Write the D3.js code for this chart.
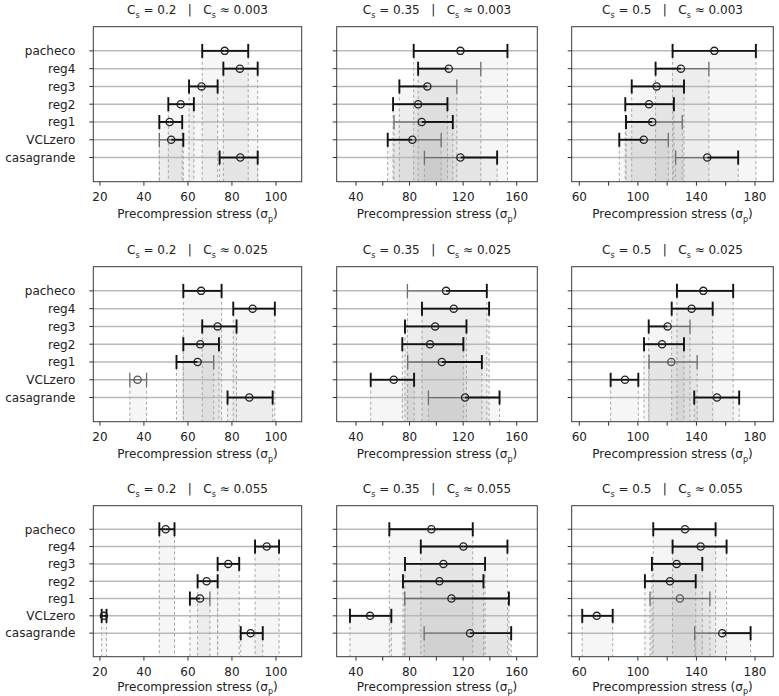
<!DOCTYPE html>
<html>
<head>
<meta charset="utf-8">
<script src="https://cdn.jsdelivr.net/npm/d3@7"></script>
<style>
	body { margin: 0; background: #fff; }
	text { font-family: "DejaVu Sans", sans-serif; white-space: pre; }
</style>
</head>
<body>
<div class="chart"></div>
<script>
// categories, top to bottom
const categories = ["pacheco", "reg4", "reg3", "reg2", "reg1", "VCLzero", "casagrande"]
const csValues = ["0.2", "0.35", "0.5"]
const csApprox = ["0.003", "0.025", "0.055"]

// [lower, estimate, upper] per category
const r1c1 = [[66.5, 76.7, 87.4], [76.1, 83.6, 91.7], [60.5, 66.2, 73.5], [51.1, 56.7, 62.7], [47.0, 51.7, 57.4], [47.0, 52.4, 57.9], [74.4, 83.8, 91.7]]
const r1c2 = [[83.1, 118.0, 153.1], [86.4, 109.3, 133.2], [72.4, 93.3, 115.3], [67.7, 86.4, 108.3], [68.4, 89.1, 112.3], [63.7, 82.1, 103.6], [91.1, 118.0, 145.4]]
const r1c3 = [[123.7, 152.2, 180.6], [112.1, 129.4, 148.5], [95.8, 112.8, 131.5], [91.4, 107.6, 124.6], [91.9, 109.8, 130.3], [87.3, 104.0, 120.8], [125.8, 147.4, 168.5]]
const r2c1 = [[57.9, 66.0, 75.3], [80.6, 89.4, 99.5], [66.5, 73.5, 82.1], [57.9, 65.6, 74.1], [54.8, 64.4, 71.7], [33.6, 37.1, 41.2], [78.0, 87.9, 98.5]]
const r2c2 = [[78.4, 107.3, 137.7], [89.3, 113.0, 139.4], [76.6, 99.1, 122.5], [74.6, 95.3, 120.2], [78.6, 104.1, 134.0], [51.0, 68.2, 83.4], [94.1, 121.5, 147.2]]
const r2c3 = [[126.7, 144.7, 165.1], [123.1, 136.7, 151.1], [107.4, 120.3, 135.6], [104.2, 116.5, 131.5], [107.6, 122.8, 140.5], [81.4, 91.2, 100.3], [138.5, 154.0, 169.2]]
const r3c1 = [[47.0, 49.9, 53.9], [90.5, 95.8, 101.4], [73.5, 78.3, 83.3], [64.4, 68.5, 73.5], [60.9, 65.5, 70.0], [20.8, 21.8, 23.0], [84.0, 88.5, 94.0]]
const r3c2 = [[64.9, 96.3, 127.2], [88.4, 120.2, 153.1], [76.6, 105.3, 136.4], [75.1, 102.3, 135.2], [76.4, 111.3, 154.2], [35.5, 50.5, 66.4], [90.9, 125.2, 155.9]]
const r3c3 = [[110.5, 132.2, 153.1], [123.7, 142.9, 160.6], [109.6, 126.5, 144.0], [104.8, 121.9, 139.5], [108.3, 128.7, 149.2], [62.0, 71.9, 82.8], [138.8, 157.6, 177.0]]

// half styles: left/right of the estimate, d = dark, l = light
const r1c1Style = ["dd", "dd", "dd", "dd", "dd", "ld", "dd"]
const r1c2Style = ["dd", "dl", "dl", "dd", "ld", "dl", "ld"]
const r1c3Style = ["dd", "dl", "dd", "dd", "dl", "dl", "ld"]
const r2c1Style = ["dd", "dd", "dd", "dd", "dl", "ll", "dd"]
const r2c2Style = ["ld", "dd", "dd", "dd", "ld", "dd", "ld"]
const r2c3Style = ["dd", "dd", "dl", "dd", "ll", "dd", "dd"]
const r3c1Style = ["dd", "dd", "dd", "dd", "dl", "dd", "dd"]
const r3c2Style = ["dd", "dd", "dd", "dd", "ld", "dd", "ld"]
const r3c3Style = ["dd", "dd", "dd", "dd", "ll", "dd", "ld"]

// x axis per column
const xDomains = [[17, 111.7], [25.6, 175.4], [54.8, 192.5]]
const xTicks = [[20, 40, 60, 80, 100], [40, 60, 80, 100, 120, 140, 160], [60, 80, 100, 120, 140, 160, 180]]
const xTickLabels = [[20, 40, 60, 80, 100], [40, 80, 120, 160], [60, 100, 140, 180]]

const panels = [
	[r1c1, r1c2, r1c3],
	[r2c1, r2c2, r2c3],
	[r3c1, r3c2, r3c3]
]
const panelStyles = [
	[r1c1Style, r1c2Style, r1c3Style],
	[r2c1Style, r2c2Style, r2c3Style],
	[r3c1Style, r3c2Style, r3c3Style]
]

// layout of the frames
const width = 779
const height = 696
const colX = [[93.3, 301.7], [336.7, 537.3], [571.7, 773.3]]
const rowY = [[26.7, 181.7], [266.7, 421.7], [505.7, 656.7]]

const svg = d3.select(".chart").append("svg")
	.attr("width", width)
	.attr("height", height)

const styleColor = { d: "#111", l: "#6e6e6e" }
const styleWidth = { d: 1.9, l: 1.3 }

function subText(sel, parts, shift) {
	// parts: [text, isSub]
	let shifted = false
	parts.forEach(function (p) {
		const t = sel.append("tspan").text(p[0])
		if (p[1]) {
			t.attr("font-size", "8px").attr("dy", shift)
			shifted = true
		} else if (shifted) {
			t.attr("dy", -shift)
			shifted = false
		}
	})
}

panels.forEach(function (row, r) {
	row.forEach(function (data, c) {
		const styles = panelStyles[r][c]
		const [x0, x1] = colX[c]
		const [top, bottom] = rowY[r]
		const lastRow = r === panels.length - 1

		const x = d3.scaleLinear().domain(xDomains[c]).range([x0, x1])
		const y = d3.scaleLinear().domain([-1.36, categories.length - 1 + 1.36]).range([top, bottom])

		const g = svg.append("g")

		// shaded spans from each row down to the bottom
		g.selectAll(".span")
			.data(data)
			.enter()
			.append("rect")
			.attr("x", d => x(d[0]))
			.attr("y", (d, i) => y(i))
			.attr("width", d => x(d[2]) - x(d[0]))
			.attr("height", (d, i) => bottom - y(i))
			.attr("fill", "#8a8a8a")
			.attr("fill-opacity", 0.075)

		// grid lines
		g.selectAll(".grid")
			.data(categories)
			.enter()
			.append("line")
			.attr("x1", x0).attr("x2", x1)
			.attr("y1", (d, i) => y(i)).attr("y2", (d, i) => y(i))
			.attr("stroke", "#b9b9b9")
			.attr("stroke-width", 1.5)

		// dashed bounds
		data.forEach(function (d, i) {
			[d[0], d[2]].forEach(function (v) {
				g.append("line")
					.attr("x1", x(v)).attr("x2", x(v))
					.attr("y1", y(i)).attr("y2", bottom)
					.attr("stroke", "#a8a8a8")
					.attr("stroke-width", 1)
					.attr("stroke-dasharray", "3,2.5")
			})
		})

		// error bars, two halves
		data.forEach(function (d, i) {
			const s = styles[i]
			const yy = y(i)
			const halves = [[d[0], d[1], s[0]], [d[1], d[2], s[1]]]
			halves.forEach(function (h) {
				g.append("line")
					.attr("x1", x(h[0])).attr("x2", x(h[1]))
					.attr("y1", yy).attr("y2", yy)
					.attr("stroke", styleColor[h[2]])
					.attr("stroke-width", styleWidth[h[2]])
			})
			const caps = [[d[0], s[0]], [d[2], s[1]]]
			caps.forEach(function (cp) {
				g.append("line")
					.attr("x1", x(cp[0])).attr("x2", x(cp[0]))
					.attr("y1", yy - 7).attr("y2", yy + 7)
					.attr("stroke", styleColor[cp[1]])
					.attr("stroke-width", styleWidth[cp[1]])
			})
			g.append("circle")
				.attr("cx", x(d[1]))
				.attr("cy", yy)
				.attr("r", 3.6)
				.attr("fill", "none")
				.attr("stroke", s === "ll" ? "#555" : "#222")
				.attr("stroke-width", 1.3)
		})

		// frame
		g.append("rect")
			.attr("x", x0).attr("y", top)
			.attr("width", x1 - x0).attr("height", bottom - top)
			.attr("fill", "none")
			.attr("stroke", "#3a3a3a")
			.attr("stroke-width", 1)

		// x axis ticks
		g.selectAll(".xtick")
			.data(xTicks[c])
			.enter()
			.append("line")
			.attr("x1", d => x(d)).attr("x2", d => x(d))
			.attr("y1", bottom).attr("y2", bottom + 4)
			.attr("stroke", "#333")
			.attr("stroke-width", 1)

		g.selectAll(".xlabel")
			.data(xTickLabels[c])
			.enter()
			.append("text")
			.attr("x", d => x(d))
			.attr("y", bottom + 19.5)
			.attr("text-anchor", "middle")
			.attr("font-size", "12px")
			.attr("fill", "#222")
			.text(d => d)

		// y axis ticks
		g.selectAll(".ytick")
			.data(categories)
			.enter()
			.append("line")
			.attr("x1", x0 - 4).attr("x2", x0)
			.attr("y1", (d, i) => y(i)).attr("y2", (d, i) => y(i))
			.attr("stroke", "#333")
			.attr("stroke-width", 1)

		if (c === 0) {
			g.selectAll(".ylabel")
				.data(categories)
				.enter()
				.append("text")
				.attr("x", x0 - 18)
				.attr("y", (d, i) => y(i) + 4.3)
				.attr("text-anchor", "end")
				.attr("font-size", "12px")
				.attr("fill", "#222")
				.text(d => d)
		}

		// axis title (bottom row sits close to the page edge)
		const xl = g.append("text")
			.attr("x", (x0 + x1) / 2)
			.attr("y", bottom + (lastRow ? 34.5 : 36))
			.attr("text-anchor", "middle")
			.attr("font-size", "12px")
			.attr("fill", "#222")
		subText(xl, [["Precompression stress (σ", false], ["p", true], [")", false]], lastRow ? 2.5 : 4)

		// panel title
		const tt = g.append("text")
			.attr("x", (x0 + x1) / 2)
			.attr("y", top - 12.5)
			.attr("text-anchor", "middle")
			.attr("font-size", "12px")
			.attr("fill", "#222")
		subText(tt, [["C", false], ["s", true], [" = " + csValues[c] + "   |   C", false], ["s", true], [" ≈ " + csApprox[r], false]], 4)
	})
})
</script>
</body>
</html>
